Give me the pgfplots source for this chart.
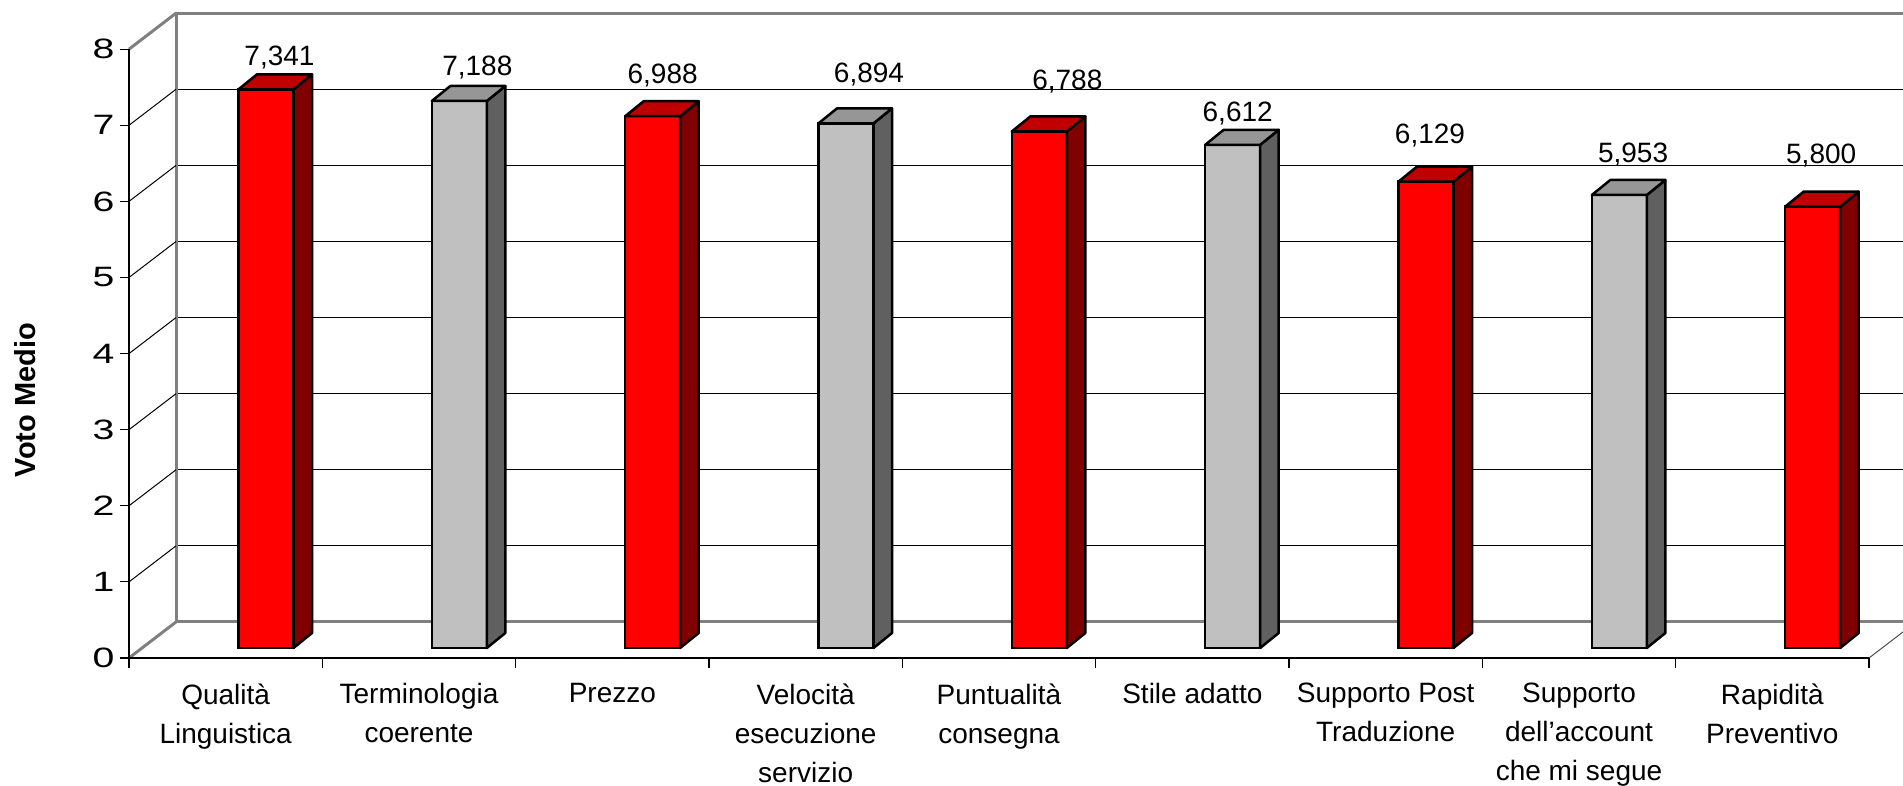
\documentclass[border=0pt]{standalone}
\usepackage{pgfplots}
\pgfplotsset{compat=1.18}
\usepackage{pgfplotstable}
\usepackage{fontspec}
\setmainfont{Liberation Sans}

\definecolor{redfront}{HTML}{FF0000}
\definecolor{redtop}{HTML}{C00000}
\definecolor{redside}{HTML}{800000}
\definecolor{grayfront}{HTML}{C0C0C0}
\definecolor{graytop}{HTML}{969696}
\definecolor{grayside}{HTML}{606060}
\definecolor{wallgray}{HTML}{808080}

% idx = category, v = mean score, lx/ly = label offset (pt) from the bar's front top
\pgfplotstableread{
idx v     lx   ly
0   7.341 6.75 11.7
2   6.988 5.0  16.6
4   6.788 14.0 21.2
6   6.129 2.0  19.15
8   5.800 4.25 21.8
}\redbars
\pgfplotstableread{
idx v     lx   ly
1   7.188 9.0  12.65
3   6.894 11.5 20.2
5   6.612 2.5  11.9
7   5.953 6.85 16.0
}\graybars

\pgfdeclareplotmark{nothing}{}

\pgfplotsset{
  % top and side faces of a 3D bar, drawn at the front-top centre of each bar
  barcap/.style 2 args={
    scatter, only marks, mark=nothing,
    point meta=explicit,
    visualization depends on={\thisrow{v} \as \barv},
    scatter/@pre marker code/.code={%
      \filldraw[fill=#2, draw=black, line width=1.25pt, line join=round]
        (13.75pt,0pt) -- (23pt,7.5pt) -- (23pt,{7.5pt-\barv*38.05pt})
        -- (13.75pt,{-\barv*38.05pt}) -- cycle;
      \filldraw[fill=#1, draw=black, line width=1.25pt, line join=round]
        (-13.75pt,0pt) -- (13.75pt,0pt) -- (23pt,7.5pt) -- (-4.5pt,7.5pt) -- cycle;
    },
    scatter/@post marker code/.code={},
  },
  % value labels above the bars
  barlabel/.style={
    only marks, mark=nothing,
    point meta=explicit,
    visualization depends on={\thisrow{lx} \as \labx},
    visualization depends on={\thisrow{ly} \as \laby},
    nodes near coords,
    every node near coord/.append style={anchor=base, inner sep=0pt,
      xshift=\labx pt, yshift=\laby pt, text=black,
      font=\fontsize{14}{16}\selectfont},
  },
}

\begin{document}
\begin{tikzpicture}
\useasboundingbox (0,0) rectangle (951.5pt,393pt);
\clip (0,0) rectangle (951.5pt,393pt);

% back wall with horizontal grid lines
\begin{axis}[
  at={(88pt,82pt)}, anchor=south west,
  x=96.667pt, y=38.05pt,
  xmin=-0.5, xmax=8.5, ymin=0, ymax=8,
  xtick=\empty, ytick={1,...,7}, yticklabels={},
  major tick length=0pt,
  ymajorgrids, grid style={black, line width=0.5pt},
  axis line style={draw=wallgray, line width=1.5pt},
]
\end{axis}

% side wall: grid lines running from the front plane to the back wall
\foreach \k in {1,...,7}
  \draw[black, line width=0.5pt] (64.5pt,{64pt+\k*38.05pt}) -- (88pt,{82pt+\k*38.05pt});
\draw[wallgray, line width=1.5pt] (64.5pt,64pt) -- (88pt,82pt);
\draw[wallgray, line width=1.5pt] (64.5pt,{64pt+8*38.05pt}) -- (88pt,{82pt+8*38.05pt});
\draw[black!70, line width=0.5pt] (934.5pt,64pt) -- (958pt,82pt);

% bars
\begin{axis}[
  at={(84.67pt,69pt)}, anchor=south west,
  x=96.667pt, y=38.05pt,
  xmin=-0.5, xmax=8.5, ymin=0, ymax=8,
  hide axis, clip=false,
  /pgf/number format/fixed,
  /pgf/number format/fixed zerofill,
  /pgf/number format/precision=3,
  /pgf/number format/use comma,
  /pgf/number format/assume math mode=true,
]
\addplot[ybar, bar width=27.5pt, bar shift=0pt, fill=redfront, draw=black,
  line width=1.25pt] table[x=idx, y=v] {\redbars};
\addplot[ybar, bar width=27.5pt, bar shift=0pt, fill=grayfront, draw=black,
  line width=1.25pt] table[x=idx, y=v] {\graybars};
\addplot[barcap={redtop}{redside}] table[x=idx, y=v, meta=v] {\redbars};
\addplot[barcap={graytop}{grayside}] table[x=idx, y=v, meta=v] {\graybars};
\addplot[barlabel] table[x=idx, y=v, meta=v] {\redbars};
\addplot[barlabel] table[x=idx, y=v, meta=v] {\graybars};
\end{axis}

% front axes, ticks and labels
\begin{axis}[
  at={(64.5pt,64pt)}, anchor=south west,
  x=96.667pt, y=38.05pt,
  xmin=-0.5, xmax=8.5, ymin=0, ymax=8,
  clip=false,
  axis x line*=bottom, axis y line*=left,
  axis line style={black, line width=0.8pt, -},
  xtick={0,...,8},
  xticklabels={{Qualità\\Linguistica},{Terminologia\\coerente},{Prezzo},
    {Velocità\\esecuzione\\servizio},{Puntualità\\consegna},{Stile adatto},
    {Supporto Post\\Traduzione},{Supporto\\dell’account\\che mi segue},
    {Rapidità\\Preventivo}},
  minor xtick={-0.5,0.5,...,8.5},
  ytick={0,...,8},
  tick align=outside,
  major tick length=4.5pt, minor tick length=5pt,
  major x tick style={draw=none},
  tick style={black, line width=0.6pt},
  /pgf/number format/assume math mode=true,
  xticklabel style={anchor=north, inner sep=0pt, align=center, yshift=-8pt,
    font=\fontsize{14}{19.5}\selectfont},
  yticklabel style={anchor=east, inner sep=0pt, xshift=-2.5pt, xscale=1.4,
    font=\fontsize{14}{16}\selectfont},
]
\end{axis}

\node[rotate=90, font=\bfseries\fontsize{14.5}{17}\selectfont] at (12.5pt,193pt) {Voto Medio};
\end{tikzpicture}
\end{document}
